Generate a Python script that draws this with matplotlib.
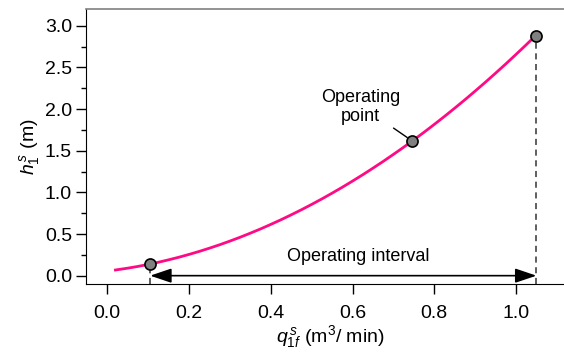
import matplotlib.pyplot as plt
import numpy as np

plt.rcParams['font.family'] = ['Liberation Sans', 'DejaVu Sans']
plt.rcParams['mathtext.fontset'] = 'custom'
plt.rcParams['mathtext.rm'] = 'Liberation Sans'
plt.rcParams['mathtext.it'] = 'Liberation Sans:italic'

# steady-state curve
q = [0.02, 0.05, 0.075, 0.10, 0.125, 0.15, 0.175, 0.20, 0.225, 0.25, 0.275,
     0.30, 0.325, 0.35, 0.375, 0.40, 0.425, 0.45, 0.475, 0.50, 0.525, 0.55,
     0.575, 0.60, 0.625, 0.65, 0.675, 0.70, 0.725, 0.75, 0.775, 0.80, 0.825,
     0.85, 0.875, 0.90, 0.925, 0.95, 0.975, 1.00, 1.025, 1.05]
h = [0.068, 0.090, 0.111, 0.135, 0.161, 0.190, 0.221, 0.255, 0.291, 0.330,
     0.371, 0.415, 0.461, 0.510, 0.561, 0.615, 0.671, 0.730, 0.791, 0.855,
     0.921, 0.990, 1.061, 1.135, 1.211, 1.290, 1.371, 1.455, 1.541, 1.630,
     1.721, 1.815, 1.911, 2.010, 2.111, 2.215, 2.321, 2.430, 2.541, 2.655,
     2.771, 2.890]

# marked points: lower bound, operating point, upper bound
pts_q = [0.105, 0.745, 1.05]
pts_h = [0.14, 1.62, 2.88]

xticks = [0.0, 0.2, 0.4, 0.6, 0.8, 1.0]
yticks = [0.0, 0.5, 1.0, 1.5, 2.0, 2.5, 3.0]

fig = plt.figure(figsize=(5.64, 3.54), dpi=100)
ax = fig.add_axes([86/564, 1-284/354, 1.0-86/564+0.02, 275/354])

ax.plot(q, h, color='#ff0a84', lw=2, zorder=3)

# dashed drops to the axis
for qq, hh in [(pts_q[0], pts_h[0]), (pts_q[2], pts_h[2])]:
    ax.plot([qq, qq], [-0.1, hh], ls=(0, (4, 3)), color='#333333', lw=1.1, zorder=2)

ax.plot(pts_q, pts_h, 'o', ms=8, mfc='#808080', mec='black', mew=1.2, zorder=4)

# operating interval arrow
ax.annotate('', xy=(pts_q[0], 0.0), xytext=(pts_q[2], 0.0),
            arrowprops=dict(arrowstyle='<|-|>,head_length=0.65,head_width=0.22',
                            color='black', lw=1.2,
                            mutation_scale=20, shrinkA=0, shrinkB=0))
ax.text(0.615, 0.23, 'Operating interval', ha='center', va='center', fontsize=13)

ax.annotate('Operating\npoint', xy=(pts_q[1], pts_h[1]), xytext=(0.619, 2.02),
            ha='center', va='center', fontsize=13, linespacing=1.15,
            arrowprops=dict(arrowstyle='-', color='black', lw=1,
                            shrinkA=0, shrinkB=4,
                            relpos=(0.79, 0.12)))

ax.set_xlim(-0.052, 1.145)
ax.set_ylim(-0.1, 3.2)
ax.set_xticks(xticks)
ax.set_yticks(yticks)
ax.set_xticklabels([f'{v:.1f}' for v in xticks])
ax.set_yticklabels([f'{v:.1f}' for v in yticks])
ax.set_yticks(np.arange(0.25, 3.0, 0.5), minor=True)
ax.tick_params(axis='both', which='major', direction='out', length=7, width=1,
               labelsize=14, pad=3)
ax.tick_params(axis='x', which='major', pad=8)
ax.tick_params(axis='y', which='minor', direction='out', length=3.5, width=1)

ax.spines['right'].set_visible(False)
ax.spines['top'].set_color('#808080')
ax.spines['top'].set_linewidth(1.2)

ax.set_xlabel(r'$q^{\,s}_{\mathit{1f}}$ (m$^3$/ min)', fontsize=14, labelpad=1)
ax.set_ylabel(r'$h^{\,s}_{\mathit{1}}$ (m)', fontsize=14, labelpad=2)

fig.savefig('out.png', dpi=100)
